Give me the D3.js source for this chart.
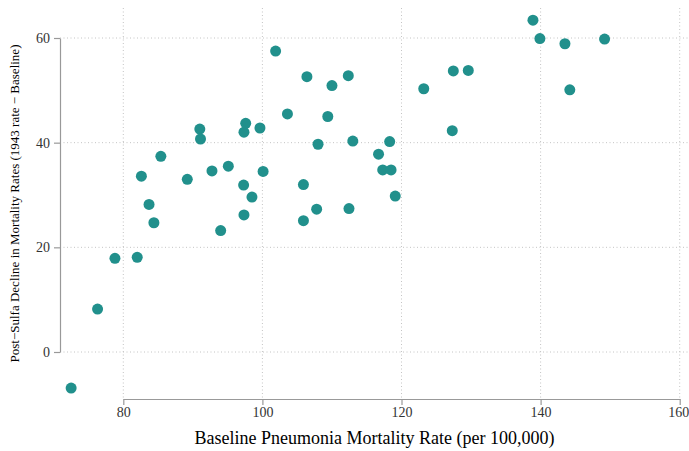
<!DOCTYPE html>
<html lang="en">
  <head>
    <script src="https://d3js.org/d3.v7.min.js"></script>
    <style>
      body { margin: 0; background: #fff; }
      .axis path, .axis line { stroke: #999; stroke-width: 1.2; }
      .grid line { stroke: #c4c4c4; stroke-width: 1; stroke-dasharray: 1,2.5; }
    </style>
  </head>
  <body>
    <div id="chart"></div>
    <script>
      // baseline pneumonia mortality (per 100,000)
      var baseline = [72.5, 76.3, 78.8, 82.0, 82.6, 83.7, 84.4, 85.4, 89.2, 91.0,
                      91.1, 92.75, 94.0, 95.1, 97.3, 97.35, 97.35, 97.6, 98.5, 99.65,
                      100.1, 101.9, 103.6, 105.9, 105.9, 106.4, 107.8, 108.0, 109.4, 110.0,
                      112.35, 112.45, 113.0, 116.7, 117.3, 118.3, 118.5, 119.1, 123.2, 127.3,
                      127.45, 129.6, 138.9, 139.9, 143.5, 144.2, 149.2]
      // decline after sulfa drugs (1943 rate - baseline)
      var decline = [-6.9, 8.2, 17.9, 18.1, 33.6, 28.2, 24.7, 37.4, 33.0, 42.6,
                     40.7, 34.6, 23.2, 35.5, 31.9, 42.0, 26.2, 43.7, 29.6, 42.8,
                     34.5, 57.5, 45.5, 32.0, 25.1, 52.6, 27.3, 39.7, 45.0, 50.9,
                     52.8, 27.4, 40.3, 37.8, 34.8, 40.2, 34.8, 29.8, 50.3, 42.3,
                     53.7, 53.8, 63.4, 59.9, 58.9, 50.1, 59.8]
      var xTicks = [80, 100, 120, 140, 160]
      var yTicks = [0, 20, 40, 60]

      var W = 689, H = 451
      var panel = {left: 60, right: 689, top: 8, bottom: 399}
      var SERIF = "'Liberation Serif', 'Times New Roman', serif"

      var data = baseline.map(function(b, i){ return {x: b, y: decline[i]} })

      var svg = d3.select("#chart").append("svg")
        .attr("width", W)
        .attr("height", H)

      var x = d3.scaleLinear().domain([80, 160]).range([123.3, 679.7])
      var y = d3.scaleLinear().domain([0, 60]).range([352, 38])

      // grid
      var grid = svg.append("g").attr("class", "grid")
      grid.selectAll(".gx").data(xTicks).enter().append("line")
        .attr("x1", function(d){ return x(d) }).attr("x2", function(d){ return x(d) })
        .attr("y1", panel.top).attr("y2", panel.bottom)
      grid.selectAll(".gy").data(yTicks).enter().append("line")
        .attr("x1", panel.left).attr("x2", panel.right)
        .attr("y1", function(d){ return y(d) }).attr("y2", function(d){ return y(d) })

      // axes (range frame: line only spans the ticks)
      var yAxis = svg.append("g")
        .attr("class", "axis")
        .attr("transform", "translate(" + panel.left + ",0)")
        .call(d3.axisLeft(y).tickValues(yTicks).tickSize(6).tickSizeOuter(0).tickPadding(4))
      var xAxis = svg.append("g")
        .attr("class", "axis")
        .attr("transform", "translate(0," + panel.bottom + ")")
        .call(d3.axisBottom(x).tickValues(xTicks).tickSize(6).tickSizeOuter(0).tickPadding(2))
      svg.selectAll(".axis text")
        .style("font-family", SERIF)
        .style("font-size", "14px")
        .style("fill", "#333")
      xAxis.selectAll(".tick:last-of-type text").attr("dx", "-1.5")

      // points
      svg.append("g")
        .selectAll("circle")
        .data(data)
        .enter()
        .append("circle")
        .attr("cx", function(d){ return x(d.x) })
        .attr("cy", function(d){ return y(d.y) })
        .attr("r", 5.5)
        .style("fill", "#21908C")

      // titles
      svg.append("text")
        .attr("x", (panel.left + panel.right) / 2)
        .attr("y", 444)
        .attr("text-anchor", "middle")
        .style("font-family", SERIF)
        .style("font-size", "18px")
        .style("fill", "#000")
        .text("Baseline Pneumonia Mortality Rate (per 100,000)")
      svg.append("text")
        .attr("transform", "translate(19," + ((panel.top + panel.bottom) / 2) + ") rotate(-90)")
        .attr("text-anchor", "middle")
        .style("font-family", SERIF)
        .style("font-size", "13px")
        .style("fill", "#000")
        .text("Post\u2212Sulfa Decline in Mortality Rates (1943 rate \u2212 Baseline)")
    </script>
  </body>
</html>
